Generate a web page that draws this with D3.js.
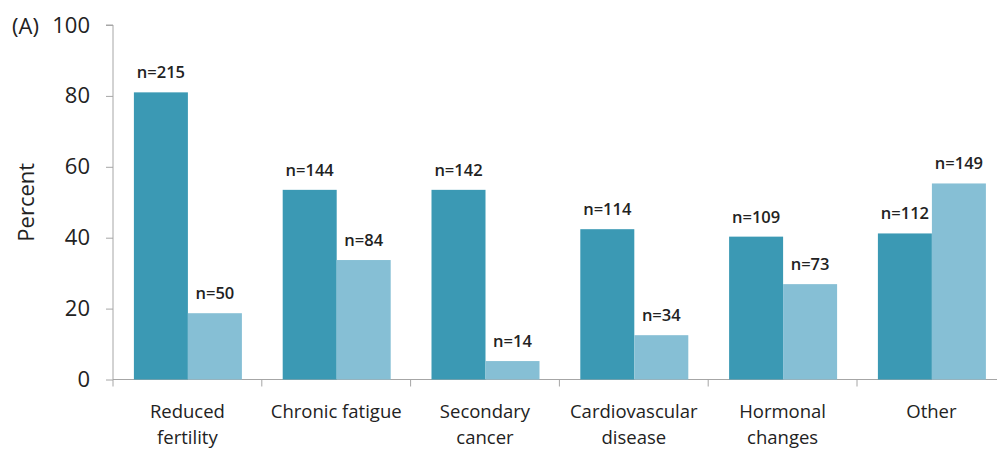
<!DOCTYPE html>
<html><head><meta charset="utf-8">
<script src="https://cdn.jsdelivr.net/npm/d3@7"></script>
<style>body{margin:0;background:#fff;} svg{display:block;}</style>
</head><body>
<svg id="c" width="997" height="452"></svg>
<script>
const categories = [["Reduced","fertility"],["Chronic fatigue"],["Secondary","cancer"],["Cardiovascular","disease"],["Hormonal","changes"],["Other"]];
const series1 = [81.0, 53.5, 53.5, 42.4, 40.3, 41.2];
const series2 = [18.7, 33.7, 5.2, 12.5, 26.9, 55.3];
const labels1 = ["n=215","n=144","n=142","n=114","n=109","n=112"];
const labels2 = ["n=50","n=84","n=14","n=34","n=73","n=149"];
const yTicks = [0,20,40,60,80,100];

const svg = d3.select("#c");
const font = "'Open Sans', sans-serif";
const x0 = 113, bandW = 148.8;
const x = d3.scaleBand().domain(d3.range(categories.length)).range([x0, x0 + bandW*categories.length]).paddingInner(0).paddingOuter(0);
const y = d3.scaleLinear().domain([0,100]).range([379.5, 25]);
const barW = 54;

// axes
const yAxis = svg.append("g").attr("transform",`translate(${x0},0)`)
  .call(d3.axisLeft(y).tickValues(yTicks).tickSize(7).tickPadding(16).tickFormat(d3.format("d")));
yAxis.select(".domain").attr("stroke","#a6a6a6").attr("d",`M-7,${y(100)}H0V${y(0)}`);
yAxis.selectAll(".tick line").attr("stroke","#a6a6a6");
yAxis.selectAll(".tick text").attr("font-family",font).attr("font-size",22).attr("fill","#222");

const xAxisG = svg.append("g").attr("transform",`translate(0,${y(0)})`);
xAxisG.append("line").attr("x1",x0).attr("x2",997).attr("y1",0).attr("y2",0).attr("stroke","#a6a6a6");
xAxisG.selectAll("line.t").data(d3.range(categories.length+1)).join("line").attr("class","t")
  .attr("x1",d=>x0+d*bandW).attr("x2",d=>x0+d*bandW).attr("y1",0).attr("y2",7).attr("stroke","#a6a6a6");

// category labels (one text per line)
categories.forEach((lines,i)=>{
  const cx = x(i)+bandW/2;
  lines.forEach((l,j)=>{
    svg.append("text").attr("x",cx).attr("y",418 + j*25.5).attr("text-anchor","middle")
      .attr("font-family",font).attr("font-size",18.5).attr("fill","#222").text(l);
  });
});

// bars
const g = svg.append("g");
categories.forEach((c,i)=>{
  const cx = x(i)+bandW/2 + 0.5;
  g.append("rect").attr("x",cx-barW).attr("y",y(series1[i])).attr("width",barW).attr("height",y(0)-y(series1[i])).attr("fill","#3b99b4");
  g.append("rect").attr("x",cx).attr("y",y(series2[i])).attr("width",barW).attr("height",y(0)-y(series2[i])).attr("fill","#86bfd5");
  g.append("text").attr("x",cx-barW/2).attr("y",y(series1[i])-14).attr("text-anchor","middle")
    .attr("font-family",font).attr("font-size",16.5).attr("font-weight",600).attr("fill","#222").text(labels1[i]);
  g.append("text").attr("x",cx+barW/2).attr("y",y(series2[i])-14).attr("text-anchor","middle")
    .attr("font-family",font).attr("font-size",16.5).attr("font-weight",600).attr("fill","#222").text(labels2[i]);
});

// y title
svg.append("text").attr("transform",`translate(34,${y(50)}) rotate(-90)`).attr("text-anchor","middle")
  .attr("font-family",font).attr("font-size",22).attr("fill","#222").text("Percent");
svg.append("text").attr("x",12).attr("y",34).attr("font-family",font).attr("font-size",22).attr("fill","#222").text("(A)");
</script>
</body></html>
